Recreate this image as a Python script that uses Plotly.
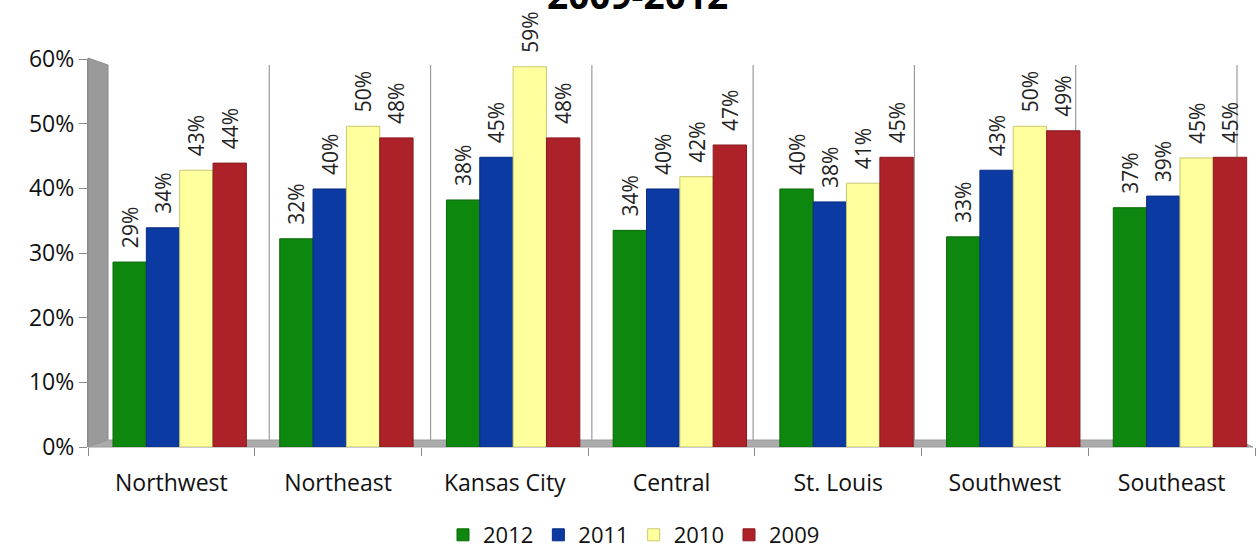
import plotly.graph_objects as go

regions = ["Northwest", "Northeast", "Kansas City", "Central", "St. Louis", "Southwest", "Southeast"]
years = ["2012", "2011", "2010", "2009"]
v2012 = [0.286, 0.322, 0.382, 0.335, 0.399, 0.325, 0.370]
v2011 = [0.339, 0.399, 0.448, 0.399, 0.379, 0.428, 0.388]
v2010 = [0.428, 0.496, 0.588, 0.418, 0.408, 0.496, 0.447]
v2009 = [0.439, 0.478, 0.478, 0.467, 0.448, 0.489, 0.448]
series = [v2012, v2011, v2010, v2009]
colors = ["#0e870e", "#0c3aa3", "#ffff9e", "#ad2128"]
line_colors = ["#0a6a0a", "#082c80", "#c8c870", "#8a1a20"]

FONT = "Open Sans"
L, R, T, B = 88, 4, 59, 109
W, H = 1259, 556
pw = W - L - R
ph = H - T - B

fig = go.Figure()
offsets = [-0.35, -0.15, 0.05, 0.25]
for name, vals, c, lc, off in zip(years, series, colors, line_colors, offsets):
    fig.add_trace(go.Bar(
        x=regions, y=vals, name=name,
        marker=dict(color=c, line=dict(color=lc, width=1)),
        width=0.2, offset=off,
        texttemplate="\u00a0\u00a0%{y:.0%}", textposition="outside", textangle=-90,
        constraintext="none",
        textfont=dict(family=FONT, size=21, color="#222222"),
        cliponaxis=False,
    ))

def px(xp):
    return (xp - L) / pw

def py(yp):
    return (H - B - yp) / ph

shapes = []
# left wall
shapes.append(dict(type="path", xref="paper", yref="paper", layer="below",
                   path=f"M {px(88)} {py(447)} L {px(88)} {py(58)} L {px(108)} {py(65)} L {px(108)} {py(440)} Z",
                   fillcolor="#9a9a9a", line=dict(color="#8a8a8a", width=1)))
# floor
shapes.append(dict(type="path", xref="paper", yref="paper", layer="below",
                   path=f"M {px(88)} {py(447)} L {px(108)} {py(440)} L {px(1237)} {py(440)} L {px(1253)} {py(447)} Z",
                   fillcolor="#ababab", line=dict(color="#9a9a9a", width=1)))
# back wall vertical gridlines between categories
n = len(regions)
for k in range(1, n + 1):
    xb = k / n * (1237 - 108) / pw + px(108)
    shapes.append(dict(type="line", xref="paper", yref="paper", layer="below",
                       x0=xb, x1=xb, y0=py(440), y1=py(65),
                       line=dict(color="#9a9a9a", width=1.2)))

fig.update_layout(
    width=W, height=H,
    margin=dict(l=L, r=R, t=T, b=B, autoexpand=False),
    paper_bgcolor="white", plot_bgcolor="rgba(0,0,0,0)",
    barmode="group",
    font=dict(family=FONT, size=23, color="#111111"),
    shapes=shapes,
    showlegend=True,
    legend=dict(orientation="h", x=px(634), xanchor="center", y=py(556), yanchor="bottom",
                font=dict(family=FONT, size=22, color="#111111"),
                itemwidth=30, traceorder="normal"),
    annotations=[dict(text="<b>2009-2012</b>", xref="paper", yref="paper",
                      x=px(637), y=py(-5), xanchor="center", yanchor="middle",
                      showarrow=False, font=dict(family=FONT, size=37, color="#000000"))],
)
fig.update_xaxes(
    type="category", range=[-0.5, n - 0.5], automargin=False,
    showline=False, tickson="boundaries", ticks="outside", ticklen=8,
    tickcolor="#8a8a8a", tickwidth=1.2, showgrid=False,
    ticklabelstandoff=20,
    tickfont=dict(family=FONT, size=23, color="#111111"),
)
fig.update_yaxes(
    range=[0, 0.6], dtick=0.1, tickformat=".0%", automargin=False,
    showgrid=False, zeroline=False, showline=True, linecolor="#8a8a8a", linewidth=1.2,
    ticks="outside", ticklen=8, tickcolor="#8a8a8a",
    tickfont=dict(family=FONT, size=23, color="#111111"),
)
fig.write_html("out.html", post_script="document.body.style.margin='0';",
               config={"displayModeBar": False})
